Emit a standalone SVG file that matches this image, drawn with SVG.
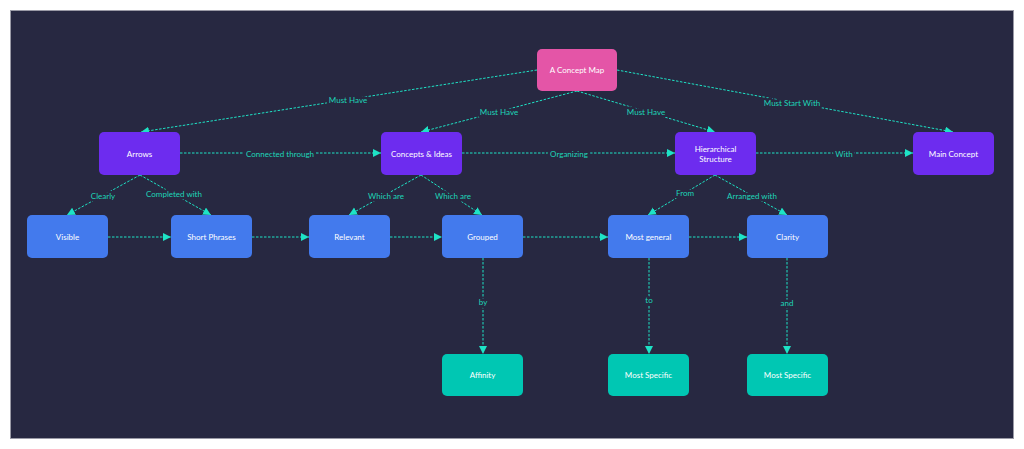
<svg xmlns="http://www.w3.org/2000/svg" width="1024" height="449" viewBox="0 0 1024 449">
<defs>
<marker id="ah" markerUnits="userSpaceOnUse" markerWidth="9" markerHeight="9" refX="8" refY="4" orient="auto">
<path d="M0,0 L8,4 L0,8 z" fill="#1ee3c6"/>
</marker>
<style>
.n rect{rx:5;ry:5}
.pink{fill:#e455a7}
.purple{fill:#6d2cef}
.blue{fill:#437aed}
.teal{fill:#00c7b3}
.nt{font-family:Lato,"Liberation Sans",sans-serif;font-size:8px;fill:#ffffff;text-anchor:middle;dominant-baseline:central}
.c{fill:none;stroke:#1ee3c6;stroke-width:1;stroke-dasharray:2.5 1.5;marker-end:url(#ah)}
.lb{font-family:Lato,"Liberation Sans",sans-serif;font-size:8px;fill:#1ed6b8;text-anchor:middle;dominant-baseline:central;stroke:#272841;stroke-width:5;paint-order:stroke;stroke-linejoin:round}
</style>
</defs>
<rect width="1024" height="449" fill="#ffffff"/>
<rect x="10.5" y="10.5" width="1003" height="428" fill="#272841" stroke="#9a9aa6" stroke-width="1"/>
<g id="connectors">
<path class="c" d="M537,70 L141,132"/>
<path class="c" d="M577,91 L421,132"/>
<path class="c" d="M577,91 L715,132"/>
<path class="c" d="M617,70 L953,132"/>
<path class="c" d="M180,153 L381,153"/>
<path class="c" d="M462,153 L675,153"/>
<path class="c" d="M756,153 L913,153"/>
<path class="c" d="M140,175 L67,215"/>
<path class="c" d="M140,175 L211,215"/>
<path class="c" d="M421,175 L349,215"/>
<path class="c" d="M421,175 L482,215"/>
<path class="c" d="M715,175 L648,215"/>
<path class="c" d="M715,175 L787,215"/>
<path class="c" d="M108,237 L171,237"/>
<path class="c" d="M252,237 L309,237"/>
<path class="c" d="M390,237 L442,237"/>
<path class="c" d="M523,237 L608,237"/>
<path class="c" d="M689,237 L747,237"/>
<path class="c" d="M483,258 L483,354"/>
<path class="c" d="M649,258 L649,354"/>
<path class="c" d="M787,258 L787,354"/>
<text class="lb" x="348" y="100">Must Have</text>
<text class="lb" x="499" y="112">Must Have</text>
<text class="lb" x="646" y="112">Must Have</text>
<text class="lb" x="792" y="103">Must Start With</text>
<text class="lb" x="280" y="154">Connected through</text>
<text class="lb" x="569" y="154">Organizing</text>
<text class="lb" x="844" y="154">With</text>
<text class="lb" x="103" y="196">Clearly</text>
<text class="lb" x="174" y="194">Completed with</text>
<text class="lb" x="386" y="196">Which are</text>
<text class="lb" x="453" y="196">Which are</text>
<text class="lb" x="685" y="193">From</text>
<text class="lb" x="752" y="196">Arranged with</text>
<text class="lb" x="483" y="302">by</text>
<text class="lb" x="649" y="300">to</text>
<text class="lb" x="787" y="303">and</text>
</g>
<g id="n-concept-map" class="n"><rect class="pink" x="537" y="49" width="80" height="42"/><text class="nt" x="577" y="70">A Concept Map</text></g>
<g id="n-arrows" class="n"><rect class="purple" x="99" y="132" width="81" height="43"/><text class="nt" x="139.5" y="153.5">Arrows</text></g>
<g id="n-concepts" class="n"><rect class="purple" x="381" y="132" width="81" height="43"/><text class="nt" x="421.5" y="153.5">Concepts &amp; Ideas</text></g>
<g id="n-hierarchical" class="n"><rect class="purple" x="675" y="132" width="81" height="43"/><text class="nt" x="715.5" y="148.5">Hierarchical</text><text class="nt" x="715.5" y="158.5">Structure</text></g>
<g id="n-main-concept" class="n"><rect class="purple" x="913" y="132" width="81" height="43"/><text class="nt" x="953.5" y="153.5">Main Concept</text></g>
<g id="n-visible" class="n"><rect class="blue" x="27" y="215" width="81" height="43"/><text class="nt" x="67.5" y="236.5">Visible</text></g>
<g id="n-short-phrases" class="n"><rect class="blue" x="171" y="215" width="81" height="43"/><text class="nt" x="211.5" y="236.5">Short Phrases</text></g>
<g id="n-relevant" class="n"><rect class="blue" x="309" y="215" width="81" height="43"/><text class="nt" x="349.5" y="236.5">Relevant</text></g>
<g id="n-grouped" class="n"><rect class="blue" x="442" y="215" width="81" height="43"/><text class="nt" x="482.5" y="236.5">Grouped</text></g>
<g id="n-most-general" class="n"><rect class="blue" x="608" y="215" width="81" height="43"/><text class="nt" x="648.5" y="236.5">Most general</text></g>
<g id="n-clarity" class="n"><rect class="blue" x="747" y="215" width="81" height="43"/><text class="nt" x="787.5" y="236.5">Clarity</text></g>
<g id="n-affinity" class="n"><rect class="teal" x="442" y="354" width="81" height="42"/><text class="nt" x="482.5" y="375">Affinity</text></g>
<g id="n-most-specific-1" class="n"><rect class="teal" x="608" y="354" width="81" height="42"/><text class="nt" x="648.5" y="375">Most Specific</text></g>
<g id="n-most-specific-2" class="n"><rect class="teal" x="747" y="354" width="81" height="42"/><text class="nt" x="787.5" y="375">Most Specific</text></g>
</svg>
